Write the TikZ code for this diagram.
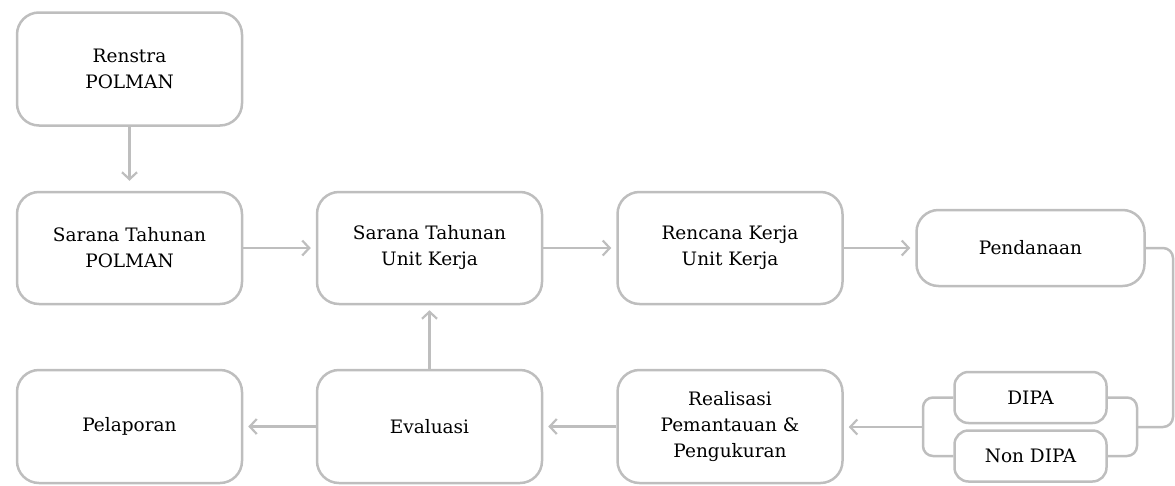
\documentclass[tikz,border=0pt]{standalone}
\usepackage{fontspec}
\setmainfont{DejaVu Serif}
\usetikzlibrary{positioning, arrows.meta, calc}
\definecolor{boxBrd}{RGB}{190,190,190}
\tikzset{
  every node/.style={font=\fontsize{18.5}{26}\selectfont},
  BX/.style={draw=boxBrd, line width=2.5pt, rounded corners=22pt, align=center,
    minimum width=225pt, minimum height=112pt, inner sep=4pt},
  SB/.style={BX, rounded corners=14pt, minimum width=152pt, minimum height=51pt},
  AR/.style={-{Straight Barb[length=7pt, width=15pt, line width=2.2pt]}, line width=2.5pt, draw=boxBrd,
    shorten >=5pt},
  LN/.style={line width=2.5pt, draw=boxBrd, rounded corners=10pt},
}
\newcommand{\hflow}[2]{\draw[AR] (#1.east) -- (#2.west);}

\begin{document}
\begin{tikzpicture}[x=1pt, y=1pt, yscale=-1]

\useasboundingbox (0,0) rectangle (1175,485);

%% top
\node[BX, minimum height=113pt] (REN) at (129.5,69) {Renstra\\POLMAN};

%% middle row
\node[BX] (STP) at (129.5,248) {Sarana Tahunan\\POLMAN};
\node[BX] (STU) at (429.5,248) {Sarana Tahunan\\Unit Kerja};
\node[BX] (RKU) at (730,248) {Rencana Kerja\\Unit Kerja};
\node[BX, minimum width=228pt, minimum height=76pt] (DANA) at (1030.5,248) {Pendanaan};

%% bottom row
\node[BX, minimum height=113pt] (LAP) at (129.5,426.5) {Pelaporan};
\node[BX, minimum height=113pt] (EVA) at (429.5,426.5) {Evaluasi};
\node[BX, minimum height=113pt] (REA) at (730,426.5) {Realisasi\\Pemantauan \&\\Pengukuran};
\node[SB] (DIPA) at (1030.5,397.5) {DIPA};
\node[SB] (NDIPA) at (1030.5,456) {Non DIPA};

\draw[AR, shorten >=10pt] (REN.south) -- (STP.north);
\hflow{STP}{STU}
\hflow{STU}{RKU}
\hflow{RKU}{DANA}
\draw[AR] (EVA.north) -- (STU.south);
\draw[AR] (REA.west) -- (EVA.east);
\draw[AR] (EVA.west) -- (LAP.east);

%% funding split
\coordinate (JR) at (1137,427);
\coordinate (JL) at (923,427);
\draw[LN] (DIPA.east) -- (JR |- DIPA.east) -- (JR |- NDIPA.east) -- (NDIPA.east);
\draw[LN] (DANA.east) -- (1173,248) -- (1173,427) -- (JR);
\draw[LN] (DIPA.west) -- (JL |- DIPA.west) -- (JL |- NDIPA.west) -- (NDIPA.west);
\draw[AR] (JL) -- (REA.east |- JL);

\end{tikzpicture}
\end{document}
